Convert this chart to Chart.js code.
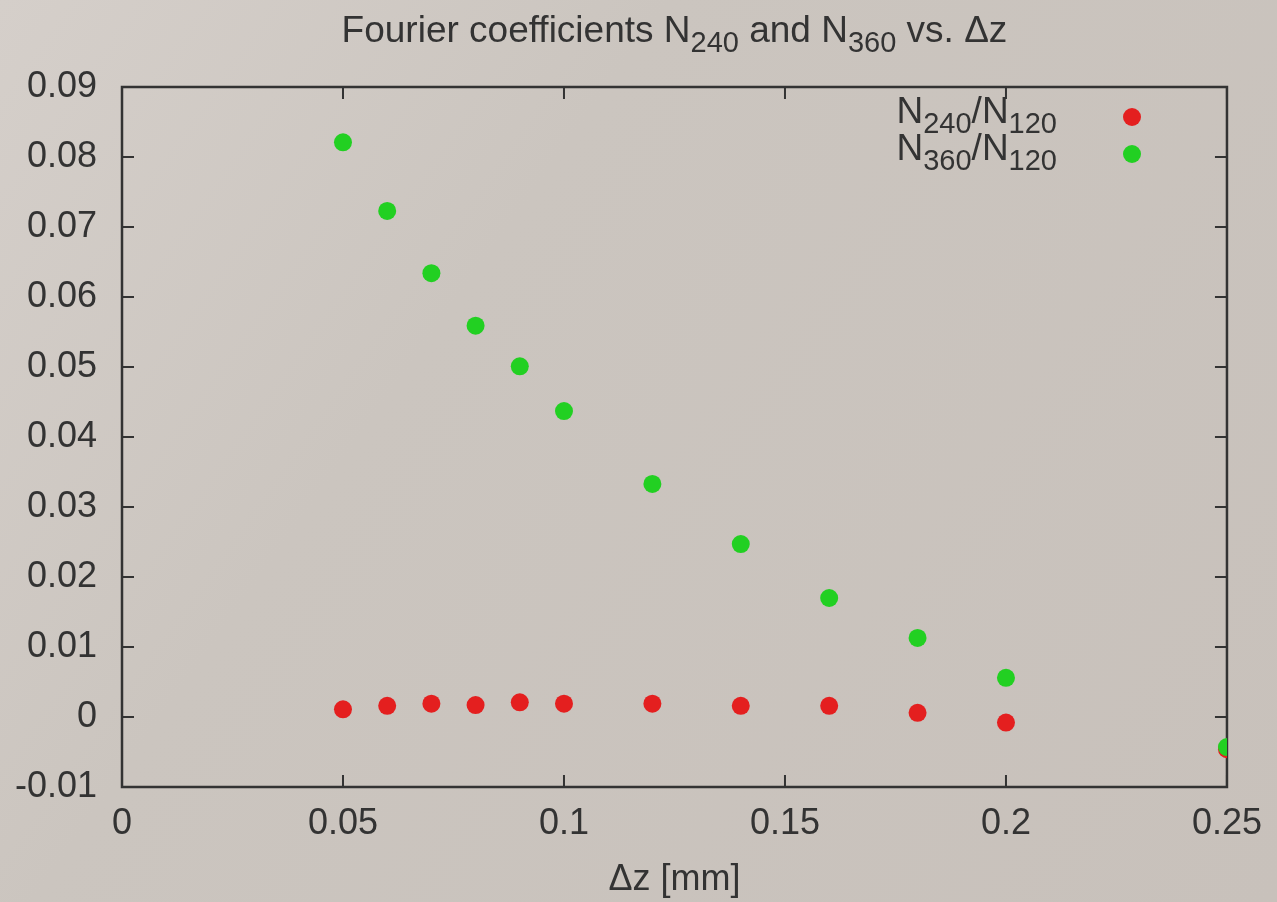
<!DOCTYPE html>
<html>
<head>
<meta charset="utf-8">
<title>Fourier coefficients</title>
<script src="https://cdn.jsdelivr.net/npm/chart.js@4/dist/chart.umd.min.js"></script>
<style>
    html, body { margin: 0; padding: 0; background: #ccc6c0; }
    #chart { display: block; }
</style>
</head>
<body>
<canvas id="chart" width="1277" height="902"></canvas>
<script>
// Δz [mm] of each measurement
const dz = [0.05, 0.06, 0.07, 0.08, 0.09, 0.10, 0.12, 0.14, 0.16, 0.18, 0.20, 0.25];
// N240/N120
const ratio240 = [0.0011, 0.0016, 0.0019, 0.0017, 0.0021, 0.0019, 0.0019, 0.0016, 0.0016, 0.0006, -0.0008, -0.0046];
// N360/N120
const ratio360 = [0.0821, 0.0723, 0.0634, 0.0559, 0.0501, 0.0437, 0.0333, 0.0247, 0.0170, 0.0113, 0.0056, -0.0043];

const xTicks = [0, 0.05, 0.1, 0.15, 0.2, 0.25];
const yTicks = [-0.01, 0, 0.01, 0.02, 0.03, 0.04, 0.05, 0.06, 0.07, 0.08, 0.09];

const titleParts = [['Fourier coefficients N', 0], ['240', 1], [' and N', 0], ['360', 1], [' vs. Δz', 0]];
const legendItems = [
    { parts: [['N', 0], ['240', 1], ['/N', 0], ['120', 1]], color: '#e41f1f' },
    { parts: [['N', 0], ['360', 1], ['/N', 0], ['120', 1]], color: '#22d022' }
];

const FONT = '"Liberation Sans", Arial, Helvetica, sans-serif';
const INK = '#333333';

function toPoints(values) {
    return dz.map((x, i) => ({ x: x, y: values[i] }));
}

function fmt(v) {
    return String(Number(v.toFixed(3)));
}

// text with subscripts, like gnuplot's enhanced text
function richWidth(ctx, parts) {
    let w = 0;
    parts.forEach(p => {
        ctx.font = (p[1] ? '29px ' : '37px ') + FONT;
        w += ctx.measureText(p[0]).width;
    });
    return w;
}

function drawRich(ctx, parts, x, y) {
    parts.forEach(p => {
        ctx.font = (p[1] ? '29px ' : '37px ') + FONT;
        ctx.fillText(p[0], x, p[1] ? y + 10 : y);
        x += ctx.measureText(p[0]).width;
    });
}

const paperPlugin = {
    id: 'paper',
    beforeDraw(chart) {
        const ctx = chart.ctx;
        const g = ctx.createLinearGradient(0, 0, chart.width, chart.height);
        g.addColorStop(0, '#d5cfca');
        g.addColorStop(0.35, '#cbc5bf');
        g.addColorStop(1, '#c8c1bb');
        ctx.save();
        ctx.fillStyle = g;
        ctx.fillRect(0, 0, chart.width, chart.height);
        ctx.restore();
    }
};

const framePlugin = {
    id: 'frame',
    beforeDatasetsDraw(chart) {
        const ctx = chart.ctx;
        const a = chart.chartArea;
        const xs = chart.scales.x, ys = chart.scales.y;
        const len = 12;
        ctx.save();
        ctx.strokeStyle = INK;
        ctx.lineWidth = 2;
        ctx.beginPath();
        xTicks.forEach(v => {
            const px = xs.getPixelForValue(v);
            ctx.moveTo(px, a.bottom); ctx.lineTo(px, a.bottom - len);
            ctx.moveTo(px, a.top); ctx.lineTo(px, a.top + len);
        });
        yTicks.forEach(v => {
            const py = ys.getPixelForValue(v);
            ctx.moveTo(a.left, py); ctx.lineTo(a.left + len, py);
            ctx.moveTo(a.right, py); ctx.lineTo(a.right - len, py);
        });
        ctx.stroke();
        ctx.lineWidth = 2.5;
        ctx.strokeRect(a.left, a.top, a.right - a.left, a.bottom - a.top);
        ctx.restore();
    }
};

const textPlugin = {
    id: 'richText',
    afterDraw(chart) {
        const ctx = chart.ctx;
        const a = chart.chartArea;
        ctx.save();
        ctx.fillStyle = INK;
        ctx.textBaseline = 'alphabetic';
        ctx.textAlign = 'left';
        // title
        const tw = richWidth(ctx, titleParts);
        drawRich(ctx, titleParts, (a.left + a.right) / 2 - tw / 2, 42);
        // key
        legendItems.forEach((item, i) => {
            const cy = 117 + i * 37;
            const w = richWidth(ctx, item.parts);
            ctx.fillStyle = INK;
            drawRich(ctx, item.parts, 1057 - w, cy + 6);
            ctx.fillStyle = item.color;
            ctx.beginPath();
            ctx.arc(1132, cy, 9, 0, Math.PI * 2);
            ctx.fill();
        });
        ctx.restore();
    }
};

new Chart(document.getElementById('chart').getContext('2d'), {
    type: 'scatter',
    data: {
        datasets: [{
            label: 'N240/N120',
            data: toPoints(ratio240),
            backgroundColor: '#e41f1f',
            borderWidth: 0,
            pointRadius: 9,
            order: 1
        }, {
            label: 'N360/N120',
            data: toPoints(ratio360),
            backgroundColor: '#22d022',
            borderWidth: 0,
            pointRadius: 9,
            order: 0
        }]
    },
    options: {
        responsive: false,
        animation: false,
        events: [],
        layout: { padding: { top: 87, right: 49, left: 0, bottom: 0 } },
        plugins: {
            legend: { display: false },
            title: { display: false },
            tooltip: { enabled: false }
        },
        scales: {
            x: {
                type: 'linear',
                min: 0,
                max: 0.25,
                afterBuildTicks: s => { s.ticks = xTicks.map(v => ({ value: v })); },
                afterFit: s => { s.height = 115; },
                grid: { display: false, drawTicks: false },
                border: { display: false },
                ticks: {
                    padding: 15,
                    color: INK,
                    font: { family: FONT, size: 36 },
                    maxRotation: 0,
                    callback: v => fmt(v)
                },
                title: {
                    display: true,
                    text: 'Δz [mm]',
                    color: INK,
                    font: { family: FONT, size: 36 },
                    padding: { top: 7, bottom: 0 }
                }
            },
            y: {
                type: 'linear',
                min: -0.01,
                max: 0.09,
                afterBuildTicks: s => { s.ticks = yTicks.map(v => ({ value: v })); },
                afterFit: s => { s.width = 122; },
                grid: { display: false, drawTicks: false },
                border: { display: false },
                ticks: {
                    padding: 25,
                    color: INK,
                    font: { family: FONT, size: 36 },
                    callback: v => fmt(v)
                }
            }
        }
    },
    plugins: [paperPlugin, framePlugin, textPlugin]
});
</script>
</body>
</html>
